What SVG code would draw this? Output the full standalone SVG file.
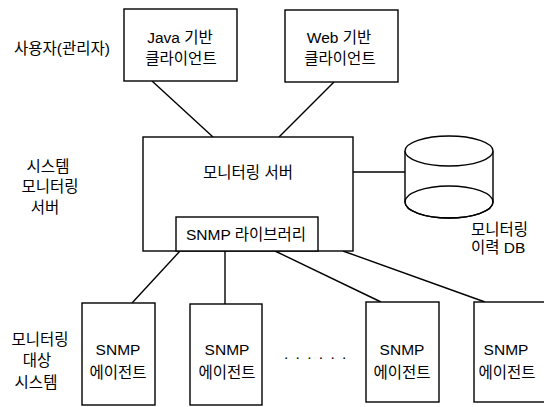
<svg xmlns="http://www.w3.org/2000/svg" width="544" height="407" viewBox="0 0 544 407">
  <style>
    .box { fill: #fff; stroke: #000; stroke-width: 1.4; }
    .wire { fill: none; stroke: #000; stroke-width: 1.4; }
    text { font-family: "Liberation Sans", "Noto Sans CJK KR", sans-serif; font-size: 15.5px; fill: #000; }
    .c { text-anchor: middle; }
  </style>
  <rect width="544" height="407" fill="#fff"/>

  <!-- links between tiers -->
  <g id="connectors">
    <line class="wire" x1="152" y1="81" x2="213" y2="137"/>
    <line class="wire" x1="334" y1="82" x2="279" y2="137"/>
    <line class="wire" x1="353" y1="172" x2="405" y2="172"/>
    <line class="wire" x1="180" y1="251" x2="132" y2="303"/>
    <line class="wire" x1="225" y1="251" x2="225" y2="304"/>
    <line class="wire" x1="275" y1="251" x2="381" y2="302"/>
    <line class="wire" x1="343" y1="251" x2="485" y2="302"/>
  </g>

  <!-- tier captions -->
  <g id="labels">
    <text x="62" y="54" class="c">사용자(관리자)</text>
    <text x="48" y="172" class="c">시스템</text>
    <text x="50" y="192" class="c">모니터링</text>
    <text x="45" y="213" class="c">서버</text>
    <text x="40" y="345" class="c">모니터링</text>
    <text x="37" y="366" class="c">대상</text>
    <text x="36" y="388" class="c">시스템</text>
  </g>

  <g id="java-client">
    <rect class="box" x="124" y="9" width="113" height="72"/>
    <text x="180" y="43" class="c">Java 기반</text>
    <text x="181" y="63.5" class="c">클라이언트</text>
  </g>

  <g id="web-client">
    <rect class="box" x="285" y="10" width="113" height="72"/>
    <text x="339" y="43" class="c">Web 기반</text>
    <text x="340" y="63.5" class="c">클라이언트</text>
  </g>

  <g id="monitoring-server">
    <rect class="box" x="143" y="137" width="210" height="114"/>
    <text x="248" y="178" class="c">모니터링 서버</text>
  </g>

  <g id="snmp-library">
    <rect class="box" x="176" y="217" width="142" height="34"/>
    <text x="246" y="240" class="c">SNMP 라이브러리</text>
  </g>

  <g id="history-db">
    <path class="box" d="M405,151 V202 A44,16 0 0 0 493,202 V151"/>
    <ellipse class="box" cx="449" cy="151" rx="44" ry="15"/>
    <ellipse class="wire" cx="449" cy="202" rx="44" ry="16"/>
    <text x="471" y="235">모니터링</text>
    <text x="471" y="253">이력 DB</text>
  </g>

  <g id="agent-1">
    <rect class="box" x="82" y="303" width="73" height="102"/>
    <text x="118" y="354.5" class="c">SNMP</text>
    <text x="118" y="377.5" class="c">에이전트</text>
  </g>

  <g id="agent-2">
    <rect class="box" x="190" y="304" width="72" height="101"/>
    <text x="227" y="354.5" class="c">SNMP</text>
    <text x="227" y="377.5" class="c">에이전트</text>
  </g>

  <text x="284" y="359" font-size="12" letter-spacing="7.3">......</text>

  <g id="agent-3">
    <rect class="box" x="366" y="302" width="73" height="100"/>
    <text x="402" y="354.5" class="c">SNMP</text>
    <text x="402" y="377.5" class="c">에이전트</text>
  </g>

  <g id="agent-4">
    <rect class="box" x="474" y="302" width="90" height="100"/>
    <text x="506" y="354.5" class="c">SNMP</text>
    <text x="507" y="377.5" class="c">에이전트</text>
  </g>
</svg>
